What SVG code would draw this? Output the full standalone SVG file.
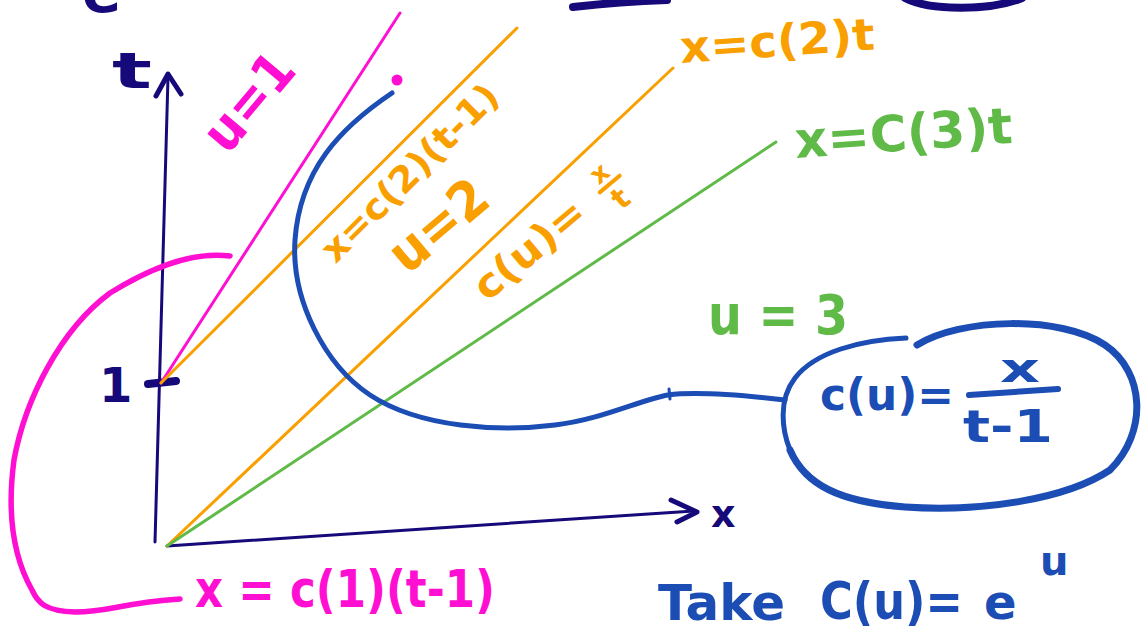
<svg xmlns="http://www.w3.org/2000/svg" width="1143" height="628" viewBox="0 0 1143 628">
<style>
.hw{font-family:"DejaVu Sans","Liberation Sans",sans-serif;font-weight:bold}
.navy{fill:#16097a}.pink{fill:#ff0fd2}.orange{fill:#f99f00}.green{fill:#5fba47}.blue{fill:#1b4db4}
.s{fill:none;stroke-linecap:round;stroke-linejoin:round}
</style>
<rect width="1143" height="628" fill="#ffffff"/>
<g id="top-fragments">
  <text class="hw navy" x="82" y="12" font-size="58">e</text>
  <path class="s" d="M573,7 C600,4 640,1 667,0" stroke="#16097a" stroke-width="8"/>
  <path class="s" d="M905,-2 C930,11 990,11 1022,-2" stroke="#16097a" stroke-width="8"/>
</g>
<g id="axes">
  <path class="s" d="M155,542 L168,77" stroke="#16097a" stroke-width="3"/>
  <path class="s" d="M156,96 L168,74 L181,94" stroke="#16097a" stroke-width="5"/>
  <text class="hw navy" x="112" y="88" font-size="50" textLength="40" lengthAdjust="spacingAndGlyphs">t</text>
  <path class="s" d="M167,546 L694,511" stroke="#16097a" stroke-width="3"/>
  <path class="s" d="M671,500 L697,512 L677,522" stroke="#16097a" stroke-width="5"/>
  <text class="hw navy" x="711" y="527" font-size="38">x</text>
  <text class="hw navy" x="99" y="402" font-size="48">1</text>
  <path class="s" d="M148,384 L176,381" stroke="#16097a" stroke-width="8"/>
</g>
<g id="connectors">
  <path class="s" d="M161,383 L400,13" stroke="#ff0fd2" stroke-width="3"/>
  <path class="s" d="M161,383 L517,28" stroke="#f99f00" stroke-width="3"/>
  <path class="s" d="M167,546 L673,68" stroke="#f99f00" stroke-width="3"/>
  <path class="s" d="M167,546 L776,142" stroke="#5fba47" stroke-width="3"/>
  <path class="s" d="M230,256 C200,252 160,262 110,293 C60,330 25,400 14,460 C6,520 15,560 32,590 C38,603 45,611 75,612 C110,612 120,603 180,599" stroke="#ff0fd2" stroke-width="5.5"/>
  <circle cx="397" cy="80" r="5.5" fill="#ff0fd2"/>
  <path class="s" d="M392,93 C340,128 300,170 295,240 C291,300 325,365 370,395 C420,428 500,432 555,425 C600,420 640,400 668,395 C700,391 750,396 785,400" stroke="#1b4db4" stroke-width="5"/>
  <path class="s" d="M669,389 L670,399" stroke="#1b4db4" stroke-width="3"/>
</g>
<g id="labels">
  <g transform="translate(249,102) rotate(-50)"><text class="hw pink" x="0" y="18" font-size="54" text-anchor="middle" textLength="110" lengthAdjust="spacingAndGlyphs">u=1</text></g>
  <g transform="translate(410,173) rotate(-45)"><text class="hw orange" x="0" y="12" font-size="36" text-anchor="middle" textLength="235" lengthAdjust="spacingAndGlyphs">x=c(2)(t-1)</text></g>
  <g transform="translate(438,225) rotate(-40)"><text class="hw orange" x="0" y="19" font-size="54" text-anchor="middle" textLength="112" lengthAdjust="spacingAndGlyphs">u=2</text></g>
  <g transform="translate(528,250) rotate(-40)">
    <text class="hw orange" x="-65" y="14" font-size="40" textLength="133" lengthAdjust="spacingAndGlyphs">c(u)=</text>
    <text class="hw orange" x="104" y="-4" font-size="26" text-anchor="middle">x</text>
    <path class="s" d="M92,2 L118,2" stroke="#f99f00" stroke-width="4"/>
    <text class="hw orange" x="104" y="30" font-size="30" text-anchor="middle">t</text>
  </g>
  <g transform="rotate(-4 681 63)"><text class="hw orange" x="681" y="63" font-size="44" textLength="195" lengthAdjust="spacingAndGlyphs">x=c(2)t</text></g>
  <g transform="rotate(-4 796 158)"><text class="hw green" x="796" y="158" font-size="50" textLength="218" lengthAdjust="spacingAndGlyphs">x=C(3)t</text></g>
  <text class="hw green" x="708" y="334" font-size="56" textLength="140" lengthAdjust="spacingAndGlyphs">u = 3</text>
  <text class="hw pink" x="195" y="607" font-size="52" textLength="300" lengthAdjust="spacingAndGlyphs">x = c(1)(t-1)</text>
</g>
<g id="note">
  <path class="s" d="M906,338 C860,340 815,352 795,378 C778,400 782,430 790,450" stroke="#1b4db4" stroke-width="5"/>
  <path class="s" d="M917,345 C960,318 1060,315 1105,345 C1145,372 1148,432 1110,470 C1065,500 980,512 905,507 C840,502 805,485 790,450" stroke="#1b4db4" stroke-width="7"/>
  <text class="hw blue" x="820" y="410" font-size="44" textLength="134" lengthAdjust="spacingAndGlyphs">c(u)=</text>
  <text class="hw blue" x="1000" y="382" font-size="40" textLength="40" lengthAdjust="spacingAndGlyphs">x</text>
  <path class="s" d="M969,395 L1058,389" stroke="#1b4db4" stroke-width="6"/>
  <text class="hw blue" x="963" y="442" font-size="44" textLength="90" lengthAdjust="spacingAndGlyphs">t-1</text>
</g>
<g id="take">
  <text class="hw blue" x="658" y="620" font-size="50" textLength="127" lengthAdjust="spacingAndGlyphs">Take</text>
  <text class="hw blue" x="820" y="619" font-size="52" textLength="143" lengthAdjust="spacingAndGlyphs">C(u)=</text>
  <text class="hw blue" x="984" y="619" font-size="48">e</text>
  <text class="hw blue" x="1040" y="575" font-size="40">u</text>
</g>
</svg>
